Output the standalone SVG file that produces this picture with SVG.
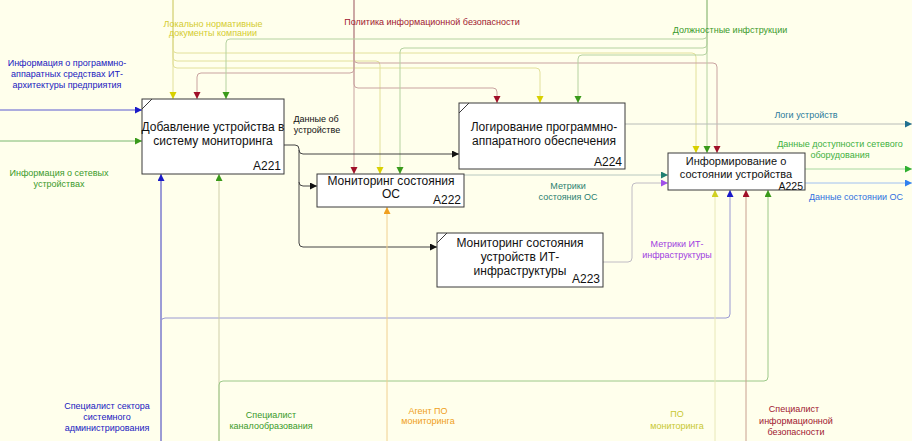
<svg xmlns="http://www.w3.org/2000/svg" width="912" height="441" viewBox="0 0 912 441">
<defs>
<style>
text{font-family:"Liberation Sans",Arial,sans-serif}
.box{fill:#ffffff;stroke:#3a3a3a;stroke-width:1}
.bt{font-size:12px;fill:#111;text-anchor:middle}
.bn{font-size:12px;fill:#111;text-anchor:end}
.lb{font-size:9px;text-anchor:middle}
.c{fill:none;stroke-width:1}
.corner{stroke:#3a3a3a;stroke-width:1}
</style>
<marker id="aY" markerUnits="userSpaceOnUse" markerWidth="8" markerHeight="8" refX="7" refY="3.5" orient="auto"><path d="M0,0 L7,3.5 L0,7 z" fill="#d8d000"/></marker>
<marker id="aR" markerUnits="userSpaceOnUse" markerWidth="8" markerHeight="8" refX="7" refY="3.5" orient="auto"><path d="M0,0 L7,3.5 L0,7 z" fill="#a01028"/></marker>
<marker id="aG" markerUnits="userSpaceOnUse" markerWidth="8" markerHeight="8" refX="7" refY="3.5" orient="auto"><path d="M0,0 L7,3.5 L0,7 z" fill="#3a9a1a"/></marker>
<marker id="aB" markerUnits="userSpaceOnUse" markerWidth="8" markerHeight="8" refX="7" refY="3.5" orient="auto"><path d="M0,0 L7,3.5 L0,7 z" fill="#1a1ac8"/></marker>
<marker id="aK" markerUnits="userSpaceOnUse" markerWidth="8" markerHeight="8" refX="7" refY="3.5" orient="auto"><path d="M0,0 L7,3.5 L0,7 z" fill="#111"/></marker>
<marker id="aT" markerUnits="userSpaceOnUse" markerWidth="8" markerHeight="8" refX="7" refY="3.5" orient="auto"><path d="M0,0 L7,3.5 L0,7 z" fill="#1f7f70"/></marker>
<marker id="aT2" markerUnits="userSpaceOnUse" markerWidth="8" markerHeight="8" refX="7" refY="3.5" orient="auto"><path d="M0,0 L7,3.5 L0,7 z" fill="#207090"/></marker>
<marker id="aP" markerUnits="userSpaceOnUse" markerWidth="8" markerHeight="8" refX="7" refY="3.5" orient="auto"><path d="M0,0 L7,3.5 L0,7 z" fill="#a050e8"/></marker>
<marker id="aLG" markerUnits="userSpaceOnUse" markerWidth="8" markerHeight="8" refX="7" refY="3.5" orient="auto"><path d="M0,0 L7,3.5 L0,7 z" fill="#30b030"/></marker>
<marker id="aLB" markerUnits="userSpaceOnUse" markerWidth="8" markerHeight="8" refX="7" refY="3.5" orient="auto"><path d="M0,0 L7,3.5 L0,7 z" fill="#3080f0"/></marker>
<marker id="aO" markerUnits="userSpaceOnUse" markerWidth="8" markerHeight="8" refX="7" refY="3.5" orient="auto"><path d="M0,0 L7,3.5 L0,7 z" fill="#f0a020"/></marker>
<marker id="aYG" markerUnits="userSpaceOnUse" markerWidth="8" markerHeight="8" refX="7" refY="3.5" orient="auto"><path d="M0,0 L7,3.5 L0,7 z" fill="#d0d020"/></marker>
</defs>
<rect x="0" y="0" width="912" height="441" fill="#ffffec"/>

<g id="connectors">
<path class="c" stroke="#e2e09a" d="M173 0 V99" marker-end="url(#aY)"/>
<path class="c" stroke="#e2e09a" d="M173 0 V49 Q173 53 177 53 H692 Q696 53 696 57 V153" marker-end="url(#aY)"/>
<path class="c" stroke="#e2e09a" d="M173 0 V57 Q173 61 177 61 H376 Q380 61 380 65 V174" marker-end="url(#aY)"/>
<path class="c" stroke="#e2e09a" d="M173 0 V64 Q173 68 177 68 H536 Q540 68 540 72 V103" marker-end="url(#aY)"/>
<path class="c" stroke="#c9a3a0" d="M354 0 V174" marker-end="url(#aR)"/>
<path class="c" stroke="#c9a3a0" d="M354 0 V69 Q354 73 350 73 H201 Q197 73 197 77 V99" marker-end="url(#aR)"/>
<path class="c" stroke="#c9a3a0" d="M354 0 V84 Q354 88 358 88 H493 Q497 88 497 92 V103" marker-end="url(#aR)"/>
<path class="c" stroke="#c9a3a0" d="M354 0 V59 Q354 63 358 63 H713 Q717 63 717 67 V153" marker-end="url(#aR)"/>
<path class="c" stroke="#b5d2a0" d="M707 0 V153" marker-end="url(#aG)"/>
<path class="c" stroke="#b5d2a0" d="M707 0 V35 Q707 39 703 39 H230 Q226 39 226 43 V99" marker-end="url(#aG)"/>
<path class="c" stroke="#b5d2a0" d="M707 0 V44 Q707 48 703 48 H404 Q400 48 400 52 V174" marker-end="url(#aG)"/>
<path class="c" stroke="#b5d2a0" d="M707 0 V51 Q707 55 703 55 H582 Q578 55 578 59 V103" marker-end="url(#aG)"/>
<path class="c" stroke="#5a5ad0" d="M0 110 H142" marker-end="url(#aB)"/>
<path class="c" stroke="#7ab870" d="M0 141 H142" marker-end="url(#aG)"/>
<path class="c" stroke="#444" d="M284 145 H295 Q299 145 299 149 V243 Q299 247 303 247 H437" marker-end="url(#aK)"/>
<path class="c" stroke="#444" d="M299 150 Q299 154 303 154 H459" marker-end="url(#aK)"/>
<path class="c" stroke="#444" d="M299 182 Q299 186 303 186 H317" marker-end="url(#aK)"/>
<path class="c" stroke="#b8bcb8" d="M625 124 H912" marker-end="url(#aT2)"/>
<path class="c" stroke="#b8c8c0" d="M464 175 H668" marker-end="url(#aT)"/>
<path class="c" stroke="#c0bcc4" d="M603 262 H628 Q632 262 632 258 V187 Q632 183 636 183 H668" marker-end="url(#aP)"/>
<path class="c" stroke="#a8d8a0" d="M805 169 H912" marker-end="url(#aLG)"/>
<path class="c" stroke="#a0c0f0" d="M805 183 H912" marker-end="url(#aLB)"/>
<path class="c" stroke="#3a3ac0" d="M161 441 V174" marker-end="url(#aB)"/>
<path class="c" stroke="#9a9ad2" d="M161 441 V322 Q161 318 165 318 H726 Q730 318 730 314 V190" marker-end="url(#aB)"/>
<path class="c" stroke="#cfcfa8" d="M219 441 V174" marker-end="url(#aG)"/>
<path class="c" stroke="#9cc888" d="M219 441 V385 Q219 381 223 381 H764 Q768 381 768 377 V190" marker-end="url(#aG)"/>
<path class="c" stroke="#f0d090" d="M387 441 V207" marker-end="url(#aO)"/>
<path class="c" stroke="#e8e8b8" d="M715 441 V190" marker-end="url(#aYG)"/>
<path class="c" stroke="#c8a090" d="M746 441 V190" marker-end="url(#aR)"/>
</g>

<g id="A221">
<rect class="box" x="142" y="99" width="142" height="75"/>
<line class="corner" x1="142" y1="109" x2="152" y2="99"/>
<text class="bt" x="213" y="131">Добавление устройства в</text>
<text class="bt" x="213" y="145">систему мониторинга</text>
<text class="bn" x="281" y="170">A221</text>
</g>
<g id="A222">
<rect class="box" x="317" y="174" width="147" height="33"/>
<text class="bt" x="391" y="185">Мониторинг состояния</text>
<text class="bt" x="391" y="198">ОС</text>
<text class="bn" x="461" y="204">A222</text>
</g>
<g id="A223">
<rect class="box" x="437" y="233" width="166" height="54"/>
<line class="corner" x1="437" y1="243" x2="447" y2="233"/>
<text class="bt" x="520" y="247">Мониторинг состояния</text>
<text class="bt" x="520" y="261">устройств ИТ-</text>
<text class="bt" x="520" y="275">инфраструктуры</text>
<text class="bn" x="600" y="283">A223</text>
</g>
<g id="A224">
<rect class="box" x="459" y="103" width="166" height="66"/>
<line class="corner" x1="459" y1="113" x2="469" y2="103"/>
<text class="bt" x="544" y="131">Логирование программно-</text>
<text class="bt" x="544" y="145">аппаратного обеспечения</text>
<text class="bn" x="622" y="166">A224</text>
</g>
<g id="A225">
<rect class="box" x="668" y="153" width="137" height="37"/>
<text class="bt" x="736" y="165" style="font-size:11px">Информирование о</text>
<text class="bt" x="736" y="177.5" style="font-size:11px">состоянии устройства</text>
<text class="bn" x="803" y="189.5" style="font-size:10.5px">A225</text>
</g>

<g id="labels">
<text class="lb" fill="#2020c0" x="67" y="66">Информация о программно-</text>
<text class="lb" fill="#2020c0" x="67" y="77">аппаратных средствах ИТ-</text>
<text class="lb" fill="#2020c0" x="67" y="88">архитектуры предприятия</text>
<text class="lb" fill="#3a9a2a" x="59" y="176">Информация о сетевых</text>
<text class="lb" fill="#3a9a2a" x="59" y="187">устройствах</text>
<text class="lb" fill="#d4cc30" x="213" y="27">Локально нормативные</text>
<text class="lb" fill="#d4cc30" x="213" y="36">документы компании</text>
<text class="lb" fill="#a01830" x="432" y="25">Политика информационной безопасности</text>
<text class="lb" fill="#3a9a2a" x="730" y="33">Должностные инфструкции</text>
<text class="lb" fill="#111" x="316" y="122">Данные об</text>
<text class="lb" fill="#111" x="317" y="133">устройстве</text>
<text class="lb" fill="#2a7a9b" x="806" y="118">Логи устройств</text>
<text class="lb" fill="#40b040" x="840" y="147">Данные доступности сетевого</text>
<text class="lb" fill="#40b040" x="840" y="158">оборудования</text>
<text class="lb" fill="#3070e0" x="856" y="200">Данные состоянии ОС</text>
<text class="lb" fill="#2a8070" x="568" y="189">Метрики</text>
<text class="lb" fill="#2a8070" x="568" y="200">состояния ОС</text>
<text class="lb" fill="#a040e0" x="677" y="247">Метрики ИТ-</text>
<text class="lb" fill="#a040e0" x="677" y="258">инфраструктуры</text>
<text class="lb" fill="#2020c0" x="107" y="409">Специалист сектора</text>
<text class="lb" fill="#2020c0" x="107" y="420">системного</text>
<text class="lb" fill="#2020c0" x="107" y="431">администрирования</text>
<text class="lb" fill="#3a9a2a" x="271" y="418">Специалист</text>
<text class="lb" fill="#3a9a2a" x="271" y="429">каналообразования</text>
<text class="lb" fill="#f0a020" x="428" y="414">Агент ПО</text>
<text class="lb" fill="#f0a020" x="428" y="424">мониторинга</text>
<text class="lb" fill="#c8c830" x="677" y="417">ПО</text>
<text class="lb" fill="#c8c830" x="677" y="429">мониторинга</text>
<text class="lb" fill="#a01830" x="794" y="412">Специалист</text>
<text class="lb" fill="#a01830" x="796" y="424">информационной</text>
<text class="lb" fill="#a01830" x="796" y="435">безопасности</text>
</g>
</svg>
